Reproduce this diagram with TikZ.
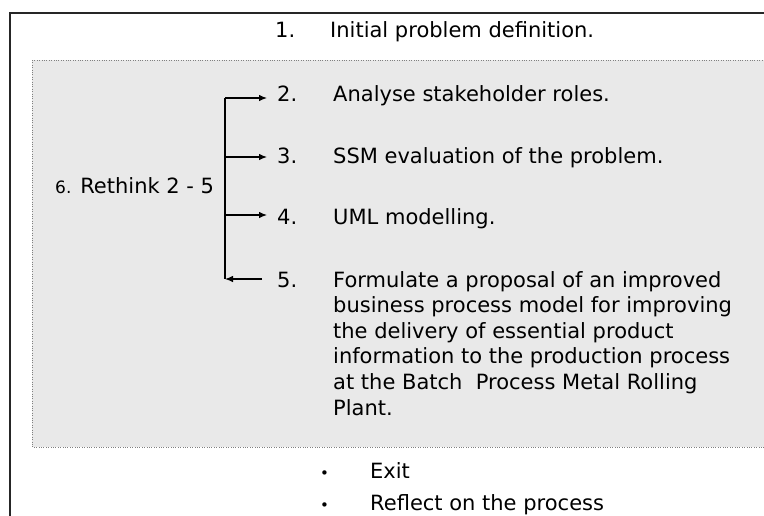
\documentclass[tikz,border=0pt]{standalone}
\usepackage{fontspec}
\setmainfont{DejaVu Sans}
\usetikzlibrary{arrows, arrows.meta}

\tikzset{
  item/.style={anchor=base west, inner sep=0pt, font=\fontsize{21}{25.6}\selectfont},
  flow/.style={-{Latex[length=8pt,width=6.5pt]}, line width=1.1pt, shorten >=10pt},
  back/.style={-{Latex[length=8pt,width=6.5pt]}, line width=1.1pt, shorten <=15pt}
}

\begin{document}
\begin{tikzpicture}[x=1pt,y=-1pt]
    \useasboundingbox (0,0) rectangle (764,515);
    \clip (0,0) rectangle (764,515);
    % frames
    \draw[line width=1.6pt, black!85] (10,13) rectangle (790,540);
    \draw[dotted, gray, fill=gray!17] (32,60) rectangle (790,447);
    % steps
    \node[item] (num_1) at (275,37) {1.};
    \node[item] (txt_1) at (330,37) {Initial problem definition.};
    \node[item] (num_2) at (277,101) {2.};
    \node[item] (txt_2) at (333,101) {Analyse stakeholder roles.};
    \node[item] (num_3) at (277,163) {3.};
    \node[item] (txt_3) at (333,163) {SSM evaluation of the problem.};
    \node[item] (num_4) at (277,224) {4.};
    \node[item] (txt_4) at (333,224) {UML modelling.};
    \node[item] (num_5) at (277,287) {5.};
    \node[item, anchor=north west, align=left] (txt_5) at (333,271)
        {Formulate a proposal of an improved\\
         business process model for improving\\
         the delivery of essential product\\
         information to the production process\\
         at the Batch\ \ Process Metal Rolling\\
         Plant.};
    \node[item] (rethink) at (55,193) {{\fontsize{17}{20}\selectfont 6.} Rethink 2 - 5};
    \node[item, font=\fontsize{15}{18}\selectfont] (dot_1) at (320,478) {•};
    \node[item] (exit) at (370,478) {Exit};
    \node[item, font=\fontsize{15}{18}\selectfont] (dot_2) at (320,510) {•};
    \node[item] (reflect) at (370,510) {Reflect on the process};
    % loop back
    \coordinate (j_2) at (225,98);
    \coordinate (j_3) at (225,157);
    \coordinate (j_4) at (225,215);
    \coordinate (j_5) at (225,279);
    \draw[line width=1.1pt] (j_2) -- (j_5);
    \draw[flow] (j_2) -- (j_2 -| num_2.west);
    \draw[flow] (j_3) -- (j_3 -| num_3.west);
    \draw[flow] (j_4) -- (j_4 -| num_4.west);
    \draw[back] (j_5 -| num_5.west) -- (j_5);
\end{tikzpicture}
\end{document}
